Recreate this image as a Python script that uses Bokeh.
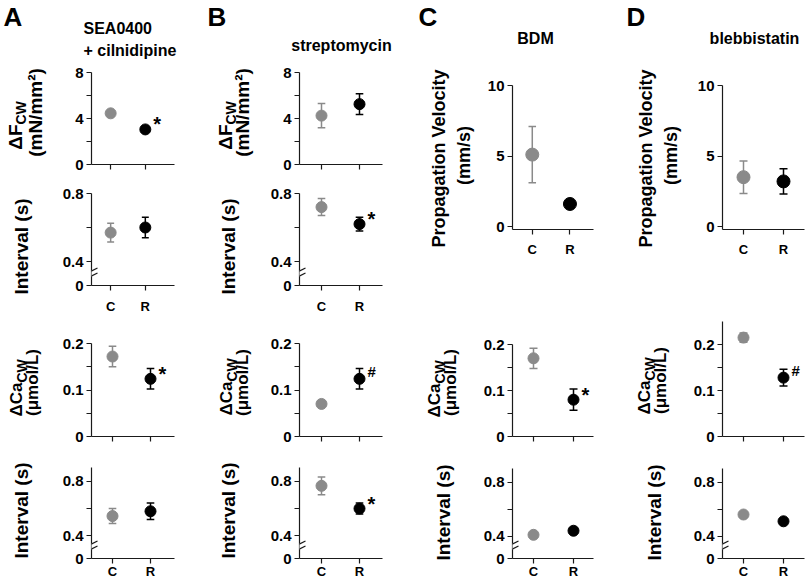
import math
from bokeh.plotting import figure
from bokeh.models import FixedTicker, Arrow, Range1d
from bokeh.layouts import row, column
from bokeh.embed import file_html
from bokeh.resources import INLINE
from bokeh.core.properties import value

FONT = "Liberation Sans"
GRAY = "#8a8a8a"
BLACK = "#000000"
AXIS = "#1a1a1a"

# ---------------- data ----------------
conditions = ["C", "R"]
x_pos = [1, 2]
point_colors = [GRAY, BLACK]

# Panel A: SEA0400 + cilnidipine
A_force = [4.45, 3.05]
A_force_err = [0.2, 0.2]
A_force_sig = ["", "*"]
A_interval1 = [0.57, 0.60]
A_interval1_err = [0.055, 0.06]
A_interval1_sig = ["", ""]
A_ca = [0.172, 0.124]
A_ca_err = [0.022, 0.022]
A_ca_sig = ["", "*"]
A_interval2 = [0.545, 0.58]
A_interval2_err = [0.055, 0.06]
A_interval2_sig = ["", ""]

# Panel B: streptomycin
B_force = [4.25, 5.25]
B_force_err = [1.05, 0.9]
B_force_sig = ["", ""]
B_interval1 = [0.72, 0.62]
B_interval1_err = [0.05, 0.04]
B_interval1_sig = ["", "*"]
B_ca = [0.07, 0.124]
B_ca_err = [0.004, 0.022]
B_ca_sig = ["", "#"]
B_interval2 = [0.766, 0.60]
B_interval2_err = [0.065, 0.04]
B_interval2_sig = ["", "*"]

# Panel C: BDM
C_velocity = [5.1, 1.6]
C_velocity_err = [2.0, 0.3]
C_velocity_sig = ["", ""]
C_ca = [0.17, 0.08]
C_ca_err = [0.022, 0.023]
C_ca_sig = ["", "*"]
C_interval = [0.41, 0.44]
C_interval_err = [0.01, 0.01]
C_interval_sig = ["", ""]

# Panel D: blebbistatin
D_velocity = [3.5, 3.2]
D_velocity_err = [1.15, 0.9]
D_velocity_sig = ["", ""]
D_ca = [0.215, 0.128]
D_ca_err = [0.01, 0.018]
D_ca_sig = ["", "#"]
D_interval = [0.56, 0.51]
D_interval_err = [0.02, 0.015]
D_interval_sig = ["", ""]

# ticks (first interval tick is the "0" below the axis break)
force_ticks = [0, 2, 4, 6, 8]
force_tick_labels = ["0", "", "4", "", "8"]
interval1_ticks = [0.259, 0.4, 0.6, 0.8]
interval1_tick_labels = ["0", "0.4", "", "0.8"]
interval2_ticks = [0.235, 0.4, 0.6, 0.8]
interval2_tick_labels = ["0", "0.4", "", "0.8"]
ca_ticks = [0, 0.05, 0.1, 0.15, 0.2]
ca_tick_labels = ["0", "", "0.1", "", "0.2"]
velocity_ticks = [0, 5, 10]
velocity_tick_labels = ["0", "5", "10"]

# ---------------- helpers ----------------
# geometry is given in screenshot pixel coordinates
PAGE_W = 806
PAGE_H = 581
H0 = 62  # header height (panel letters and titles)


def text_fig(cell):
    """A blank figure whose data space equals its pixel space, used for texts."""
    x0, y0, x1, y1 = cell
    p = figure(width=x1 - x0, height=y1 - y0, x_range=Range1d(0, x1 - x0),
               y_range=Range1d(0, y1 - y0), output_backend="svg", toolbar_location=None,
               min_border=0, outline_line_color=None, x_axis_location=None,
               y_axis_location=None, background_fill_color="white",
               border_fill_color="white")
    p.grid.visible = False
    p._cell = cell
    return p


def txt(p, x, y, text, size, angle=0.0, align="center", baseline="middle"):
    x0, y0, x1, y1 = p._cell
    p.text(x=[x - x0], y=[y1 - y], text=[text], angle=angle,
           text_font=value(FONT), text_font_size=f"{size}px", text_font_style="bold",
           text_color="black", text_align=align, text_baseline=baseline)


def add_break(p):
    b = 12
    p.add_layout(Arrow(end=None, x_start=0, y_start=b - 3, x_end=0, y_end=b + 3,
                       start_units="screen", end_units="screen",
                       line_color="white", line_width=4))
    for d in (-2.5, 2.5):
        p.add_layout(Arrow(end=None, x_start=-6, y_start=b + d - 3, x_end=6, y_end=b + d + 3,
                           start_units="screen", end_units="screen",
                           line_color=AXIS, line_width=1.2))


def make_plot(cell, frame, col, ylim, yticks, ylabels, vals, errs, sigs,
              show_x, x_standoff, msize, broken=False):
    cx0, cy0, cx1, cy1 = cell
    fx0, fy0, fx1, fy1 = frame
    c_px, unit_px = col
    xr = Range1d(1 - (c_px - fx0) / unit_px, 1 + (fx1 - c_px) / unit_px)
    p = figure(width=cx1 - cx0, height=cy1 - cy0, x_range=xr, y_range=Range1d(*ylim),
               output_backend="svg", toolbar_location=None,
               min_border_left=fx0 - cx0, min_border_right=cx1 - fx1,
               min_border_top=fy0 - cy0, min_border_bottom=cy1 - fy1,
               outline_line_color=None, background_fill_color="white",
               border_fill_color="white")
    p.grid.visible = False
    for ax in (p.xaxis[0], p.yaxis[0]):
        ax.axis_line_color = AXIS
        ax.axis_line_width = 1.2
        ax.major_tick_line_color = AXIS
        ax.major_tick_line_width = 1.2
        ax.major_tick_out = 5
        ax.major_tick_in = 0
        ax.minor_tick_line_color = None
        ax.major_label_text_font = FONT
        ax.major_label_text_font_style = "bold"
        ax.major_label_text_color = "black"
    p.yaxis.ticker = FixedTicker(ticks=yticks)
    p.yaxis.major_label_overrides = dict(zip(yticks, ylabels))
    p.yaxis.major_label_text_font_size = "15px"
    p.yaxis.major_label_standoff = 3
    p.xaxis.ticker = FixedTicker(ticks=x_pos)
    p.xaxis.major_label_overrides = dict(zip(x_pos, conditions if show_x else ["", ""]))
    p.xaxis.major_label_text_font_size = "13px"
    p.xaxis.major_label_standoff = x_standoff

    lo = [v - e for v, e in zip(vals, errs)]
    hi = [v + e for v, e in zip(vals, errs)]
    cap = 0.1
    p.segment(x0=x_pos, y0=lo, x1=x_pos, y1=hi, line_color=point_colors, line_width=1.5)
    p.segment(x0=[x - cap for x in x_pos], y0=hi, x1=[x + cap for x in x_pos], y1=hi,
              line_color=point_colors, line_width=1.5)
    p.segment(x0=[x - cap for x in x_pos], y0=lo, x1=[x + cap for x in x_pos], y1=lo,
              line_color=point_colors, line_width=1.5)
    p.scatter(x=x_pos, y=vals, size=msize, fill_color=point_colors, line_color=point_colors)
    for i, s in enumerate(sigs):
        if s:
            big = s == "*"
            p.text(x=[x_pos[i]], y=[vals[i]], text=[s], x_offset=8,
                   y_offset=-5 if big else -7,
                   text_font=value(FONT), text_font_size="20px" if big else "15px",
                   text_font_style="bold", text_color="black",
                   text_align="left", text_baseline="middle")
    if broken:
        add_break(p)
    return p


def ylabel_sub(p, main, sub, x_main, y_join, size_main, size_sub, dx_sub=5):
    txt(p, x_main, y_join, main, size_main, angle=math.pi / 2, align="right")
    txt(p, x_main + dx_sub, y_join, sub, size_sub, angle=math.pi / 2, align="left")


def ylabel(p, text, x, y, size):
    txt(p, x, y, text, size, angle=math.pi / 2)


colA = (112, 38.0)
colB = (321, 38.0)
colC = (533, 40.0)
colD = (743, 40.0)

# ---------------- header: panel letters and treatment titles ----------------
header = text_fig((0, 0, PAGE_W, H0))
txt(header, 3, 16, "A", 26, align="left")
txt(header, 83, 28, "SEA0400", 16, align="left")
txt(header, 83, 50, "+ cilnidipine", 16, align="left")
txt(header, 207, 16, "B", 26, align="left")
txt(header, 341, 45, "streptomycin", 16)
txt(header, 418, 16, "C", 26, align="left")
txt(header, 535, 38, "BDM", 16)
txt(header, 626, 16, "D", 26, align="left")
txt(header, 754, 38, "blebbistatin", 16)

# ---------------- column A ----------------
tA = text_fig((0, H0, 58, PAGE_H))
ylabel_sub(tA, "ΔF", "CW", 15, 124, 19, 14)
ylabel(tA, "(mN/mm²)", 35, 112, 19)
ylabel(tA, "Interval (s)", 21, 246, 19)
ylabel_sub(tA, "ΔCa", "CW", 16, 382, 17, 14)
ylabel(tA, "(μmol/L)", 32, 382, 17)
ylabel(tA, "Interval (s)", 21, 510, 19)

A1 = make_plot((58, H0, 205, 185), (91, 72, 182, 164), colA, (0, 8), force_ticks,
               force_tick_labels, A_force, A_force_err, A_force_sig, False, 0, 11)
A2 = make_plot((58, 185, 205, 318), (91, 193, 182, 285), colA, (interval1_ticks[0], 0.8),
               interval1_ticks, interval1_tick_labels, A_interval1, A_interval1_err,
               A_interval1_sig, True, 8, 11, broken=True)
A3 = make_plot((58, 318, 205, 458), (91, 343, 174, 436), colA, (0, 0.2), ca_ticks,
               ca_tick_labels, A_ca, A_ca_err, A_ca_sig, False, 0, 11)
A4 = make_plot((58, 458, 205, PAGE_H), (91, 467, 174, 561), colA, (interval2_ticks[0], 0.9),
               interval2_ticks, interval2_tick_labels, A_interval2, A_interval2_err,
               A_interval2_sig, True, 0, 11, broken=True)

# ---------------- column B ----------------
tB = text_fig((205, H0, 265, PAGE_H))
ylabel_sub(tB, "ΔF", "CW", 225, 124, 19, 14)
ylabel(tB, "(mN/mm²)", 242, 112, 19)
ylabel(tB, "Interval (s)", 228, 246, 19)
ylabel_sub(tB, "ΔCa", "CW", 226, 381, 17, 14)
ylabel(tB, "(μmol/L)", 242, 382, 17)
ylabel(tB, "Interval (s)", 228, 510, 19)

B1 = make_plot((265, H0, 412, 185), (299, 72, 382, 164), colB, (0, 8), force_ticks,
               force_tick_labels, B_force, B_force_err, B_force_sig, False, 0, 11)
B2 = make_plot((265, 185, 412, 318), (299, 193, 382, 285), colB, (interval1_ticks[0], 0.8),
               interval1_ticks, interval1_tick_labels, B_interval1, B_interval1_err,
               B_interval1_sig, True, 8, 11, broken=True)
B3 = make_plot((265, 318, 412, 458), (299, 343, 382, 436), colB, (0, 0.2), ca_ticks,
               ca_tick_labels, B_ca, B_ca_err, B_ca_sig, False, 0, 11)
B4 = make_plot((265, 458, 412, PAGE_H), (299, 467, 382, 561), colB, (interval2_ticks[0], 0.9),
               interval2_ticks, interval2_tick_labels, B_interval2, B_interval2_err,
               B_interval2_sig, True, 0, 11, broken=True)

# ---------------- column C ----------------
tC = text_fig((412, H0, 478, PAGE_H))
ylabel(tC, "Propagation Velocity", 438, 158, 18)
ylabel(tC, "(mm/s)", 463, 155, 18)
ylabel_sub(tC, "ΔCa", "CW", 434, 383, 17, 14)
ylabel(tC, "(μmol/L)", 450, 382, 17)
ylabel(tC, "Interval (s)", 443, 512, 19)

C1 = make_plot((478, H0, 620, 318), (512, 85, 598, 229), colC, (-0.21, 10), velocity_ticks,
               velocity_tick_labels, C_velocity, C_velocity_err, C_velocity_sig, True, 7, 13)
C3 = make_plot((478, 318, 620, 458), (512, 344, 593, 436), colC, (0, 0.2), ca_ticks,
               ca_tick_labels, C_ca, C_ca_err, C_ca_sig, False, 0, 11)
C4 = make_plot((478, 458, 620, PAGE_H), (512, 468, 593, 561), colC, (interval2_ticks[0], 0.9),
               interval2_ticks, interval2_tick_labels, C_interval, C_interval_err,
               C_interval_sig, True, 0, 11, broken=True)

# ---------------- column D ----------------
tD = text_fig((620, H0, 686, PAGE_H))
ylabel(tD, "Propagation Velocity", 645, 158, 18)
ylabel(tD, "(mm/s)", 670, 155, 18)
ylabel_sub(tD, "ΔCa", "CW", 644, 380, 17, 14)
ylabel(tD, "(μmol/L)", 660, 380, 17)
ylabel(tD, "Interval (s)", 654, 512, 19)

D1 = make_plot((686, H0, 806, 318), (722, 85, 804, 229), colD, (-0.21, 10), velocity_ticks,
               velocity_tick_labels, D_velocity, D_velocity_err, D_velocity_sig, True, 7, 13)
D3 = make_plot((686, 318, 806, 458), (722, 321, 804, 436), colD, (0, 0.25), ca_ticks,
               ca_tick_labels, D_ca, D_ca_err, D_ca_sig, False, 0, 11)
D4 = make_plot((686, 458, 806, PAGE_H), (722, 468, 804, 561), colD, (interval2_ticks[0], 0.9),
               interval2_ticks, interval2_tick_labels, D_interval, D_interval_err,
               D_interval_sig, True, 0, 11, broken=True)

body = row(
    tA, column(A1, A2, A3, A4),
    tB, column(B1, B2, B3, B4),
    tC, column(C1, C3, C4),
    tD, column(D1, D3, D4),
)
layout = column(header, body)

open("out.html", "w").write(file_html(layout, INLINE, title="Propagation and interval"))
